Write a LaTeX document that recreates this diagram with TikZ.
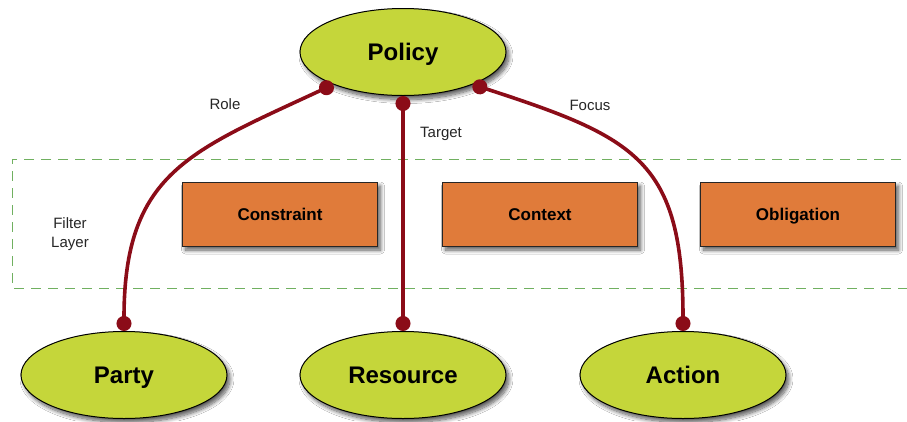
\documentclass[tikz,border=0pt]{standalone}
\usepackage{fontspec}
\setmainfont{Liberation Sans}
\usetikzlibrary{shapes.geometric,arrows.meta,shadows.blur}

\definecolor{leaf}{RGB}{197,214,58}
\definecolor{clay}{RGB}{224,123,58}
\definecolor{wine}{RGB}{139,12,24}
\definecolor{moss}{RGB}{112,176,96}

\tikzset{
  softshadow/.style={blur shadow={shadow xshift=3pt, shadow yshift=-4pt,
    shadow blur steps=10, shadow blur radius=4pt, shadow opacity=65}},
  concept/.style={ellipse, draw=black, line width=1pt, fill=leaf,
    minimum width=206pt, minimum height=87pt, inner sep=0pt,
    text height=19pt, text depth=1.8pt,
    font=\fontsize{24}{27}\selectfont\bfseries, softshadow},
  filterbox/.style={rectangle, draw=black!85, line width=1pt, fill=clay,
    minimum width=195pt, minimum height=64pt, inner sep=0pt,
    text height=14pt, text depth=1.8pt,
    font=\fontsize{17}{20}\selectfont\bfseries, softshadow},
  link/.style={draw=wine, line width=3.6pt, {Circle[length=15pt]}-{Circle[length=15pt]}},
  tag/.style={font=\fontsize{15}{19}\selectfont, text=black!85},
  layer/.style={draw=moss, line width=1pt, dash pattern=on 10pt off 7pt},
}

\begin{document}
\begin{tikzpicture}[x=1pt,y=-1pt]
  \useasboundingbox (0,0) rectangle (907,421);
  \fill[white] (0,0) rectangle (907,421);

  % filter layer frame (open to the right)
  \draw[layer] (935,159) -- (12,159) -- (12,288) -- (935,288);
  \node[tag, align=center] (filtertag) at (70,234) {Filter\\Layer};

  % filter components
  \node[filterbox] (constraint) at (280,214) {Constraint};
  \node[filterbox] (context) at (540,214) {Context};
  \node[filterbox] (obligation) at (798,214) {Obligation};

  % concepts
  \node[concept] (policy) at (403,52) {Policy};
  \node[concept] (party) at (124,375) {Party};
  \node[concept] (resource) at (403,375) {Resource};
  \node[concept] (action) at (683,375) {Action};

  % relations
  \draw[link] (policy.205) to[out=205, in=90, looseness=1.25] (party.north);
  \draw[link] (policy.south) -- (resource.north);
  \draw[link] (policy.335) to[out=-18, in=90, looseness=1.35] (action.north);

  % relation labels
  \node[tag] (role) at (225,104) {Role};
  \node[tag] (target) at (441,134) {Target};
  \node[tag] (focus) at (590,105) {Focus};
\end{tikzpicture}
\end{document}
